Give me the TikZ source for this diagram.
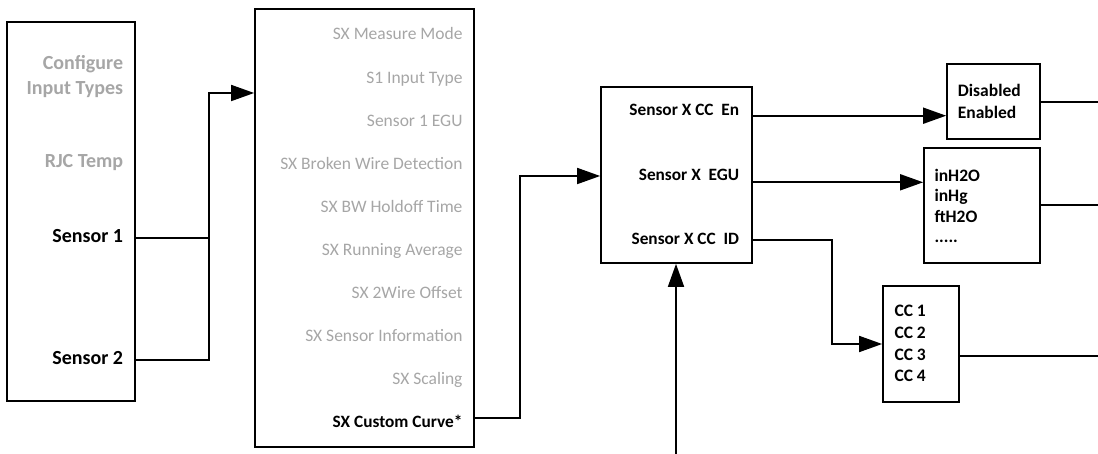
\documentclass[tikz,border=0pt]{standalone}
\usepackage{fontspec}
\setmainfont{Carlito}
\usetikzlibrary{arrows.meta}
\definecolor{greytext}{RGB}{166,166,166}
\begin{document}
\begin{tikzpicture}[x=1pt,y=-1pt,
  box/.style={draw,line width=1.7pt,inner sep=0pt,rectangle},
  conn/.style={draw,line width=1.7pt},
  arr/.style={conn,-{Triangle[length=23pt,width=16pt]}},
  bigbold/.style={font=\fontsize{20}{24}\selectfont\bfseries,inner sep=0pt,anchor=base east},
  greyreg/.style={font=\fontsize{17.5}{21}\selectfont,text=greytext,inner sep=0pt,anchor=base east},
  midbold/.style={font=\fontsize{17.3}{21}\selectfont\bfseries,inner sep=0pt,anchor=base east},
  listbold/.style={font=\fontsize{17.5}{21}\selectfont\bfseries,inner sep=0pt,anchor=base west},
]
\useasboundingbox (0,0) rectangle (1098,454);

% boxes
\node[box,minimum width=128pt,minimum height=379pt] (b1) at (71,211.5) {};
\node[box,minimum width=219pt,minimum height=438pt] (b2) at (364.5,228) {};
\node[box,minimum width=151pt,minimum height=176pt] (b3) at (676.5,175) {};
\node[box,minimum width=93pt,minimum height=75pt] (bd) at (993.5,101.5) {};
\node[box,minimum width=116pt,minimum height=115pt] (be) at (982,205.5) {};
\node[box,minimum width=76pt,minimum height=116pt] (bc) at (921,344) {};

% box 1 texts
\node[bigbold,text=greytext] (cfg1) at (123.3,70) {Configure};
\node[bigbold,text=greytext] (cfg2) at (123.3,95) {Input Types};
\node[bigbold,text=greytext] (rjc) at (123.3,168) {RJC Temp};
\node[bigbold] (s1) at (123.3,243) {Sensor 1};
\node[bigbold] (s2) at (123.3,365) {Sensor 2};

% box 2 texts
\node[greyreg] (m1) at (462.7,40) {SX Measure Mode};
\node[greyreg] (m2) at (462.7,83.1) {S1 Input Type};
\node[greyreg] (m3) at (462.7,126.2) {Sensor 1 EGU};
\node[greyreg] (m4) at (462.7,169.3) {SX Broken Wire Detection};
\node[greyreg] (m5) at (462.7,212.4) {SX BW Holdoff Time};
\node[greyreg] (m6) at (462.7,255.5) {SX Running Average};
\node[greyreg] (m7) at (462.7,298.6) {SX 2Wire Offset};
\node[greyreg] (m8) at (462.7,341.7) {SX Sensor Information};
\node[greyreg] (m9) at (462.7,384.8) {SX Scaling};
\node[midbold] (cc) at (462.7,427.5) {SX Custom Curve*};

% box 3 texts
\node[midbold] (en) at (739.3,116) {Sensor X CC\ \ En};
\node[midbold] (egu) at (739.3,181) {Sensor X\ \ EGU};
\node[midbold] (id) at (739.3,245) {Sensor X CC\ \ ID};

% list texts
\node[listbold] (dis) at (957.7,96.7) {Disabled};
\node[listbold] (ena) at (957.7,118.3) {Enabled};
\node[listbold] (u1) at (934.3,181.7) {inH2O};
\node[listbold] (u2) at (934.3,202) {inHg};
\node[listbold] (u3) at (934.3,222.3) {ftH2O};
\node[listbold] (u4) at (934.3,243) {.....};
\node[listbold] (c1) at (894.3,316.7) {CC 1};
\node[listbold] (c2) at (894.3,338.3) {CC 2};
\node[listbold] (c3) at (894.3,360) {CC 3};
\node[listbold] (c4) at (894.3,381.7) {CC 4};

% junction / free-end coordinates
\coordinate (j) at (209,93);
\coordinate (k) at (520,176);
\coordinate (m) at (832,344);
\coordinate (bot) at (676,454);
\coordinate (r1) at (1098,102);
\coordinate (r2) at (1098,205);
\coordinate (r3) at (1098,356);

% connectors
\draw[conn] ([yshift=4.7pt]s1.base -| b1.east) -| (j);
\draw[arr] ([yshift=5pt]s2.base -| b1.east) -| (j) -- (j -| b2.west);
\draw[arr] ([yshift=9.2pt]cc.base -| b2.east) -| (k) -- (k -| b3.west);
\draw[arr] ([yshift=0.3pt]en.base -| b3.east) -- ([yshift=0.3pt]en.base -| bd.west);
\draw[arr] ([yshift=-1.3pt]egu.base -| b3.east) -- ([yshift=-1.3pt]egu.base -| be.west);
\draw[arr] ([yshift=5pt]id.base -| b3.east) -| (m) -- (m -| bc.west);
\draw[arr] (bot) -- (bot |- b3.south);
\draw[conn] (r1 -| bd.east) -- (r1);
\draw[conn] (r2 -| be.east) -- (r2);
\draw[conn] (r3 -| bc.east) -- (r3);
\end{tikzpicture}
\end{document}
